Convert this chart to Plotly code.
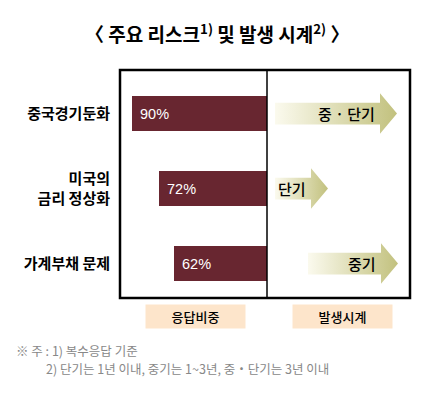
import plotly.graph_objects as go

# page has an 8px body margin; figure sized to fit inside the 433x395 window
OFF = 8
W, H = 433 - 2 * OFF, 395 - 2 * OFF

categories = ["중국경기둔화", "미국의<br>금리 정상화", "가계부채 문제"]
share_pct = [90, 72, 62]
timing_labels = ["중 · 단기", "단기", "중기"]
# arrow extents on the "timing" axis (right panel)
arrow_start = [8, 8, 41]
arrow_end = [130, 61, 131]

title_text = "〈 주요 리스크<sup>1)</sup> 및 발생 시계<sup>2)</sup> 〉"
panel_labels = ["응답비중", "발생시계"]
notes = ["※ 주 : 1) 복수응답 기준", "2) 단기는 1년 이내, 중기는 1~3년, 중・단기는 3년 이내"]

def px(x):
    return (x - OFF) / W

def py(y):
    return 1 - (y - OFF) / H

KFONT = "Noto Sans CJK KR"
ypos = list(range(len(categories)))

fig = go.Figure()

fig.add_trace(go.Bar(
    y=ypos, x=share_pct, orientation="h",
    marker=dict(color="#682630", line=dict(width=0)),
    width=0.47,
    xaxis="x", yaxis="y", showlegend=False, hoverinfo="skip",
))
for i, v in enumerate(share_pct):
    fig.add_annotation(x=v, y=i, xref="x", yref="y", text=f"{v}%",
                       showarrow=False, xanchor="left", yanchor="middle", xshift=6,
                       font=dict(color="white", size=14.5, family="Liberation Sans"))

BODY = 0.145
HEAD = 0.27
HEADLEN = 17
for i, (s, e) in enumerate(zip(arrow_start, arrow_end)):
    hb = e - HEADLEN
    xs = [s, hb, hb, e, hb, hb, s, s]
    ys = [i - BODY, i - BODY, i - HEAD, i, i + HEAD, i + BODY, i + BODY, i - BODY]
    fig.add_trace(go.Scatter(
        x=xs, y=ys, mode="lines", fill="toself",
        line=dict(width=0, color="rgba(0,0,0,0)"),
        fillgradient=dict(type="horizontal",
                          colorscale=[[0, "#fbfaee"], [1, "#c2c17e"]]),
        xaxis="x2", yaxis="y", showlegend=False, hoverinfo="skip",
    ))
    fig.add_annotation(
        x=hb, y=i, xref="x2", yref="y", text=timing_labels[i],
        showarrow=False, xanchor="right", yanchor="middle", xshift=-3,
        font=dict(family=KFONT, size=15, color="#000", weight=500),
    )

fig.update_layout(
    width=W, height=H,
    margin=dict(l=0, r=0, t=0, b=0, autoexpand=False),
    paper_bgcolor="white", plot_bgcolor="rgba(0,0,0,0)",
    bargap=0,
    xaxis=dict(domain=[px(120), px(267)], range=[98, 0], visible=False,
               fixedrange=True, automargin=False),
    xaxis2=dict(domain=[px(267), px(410)], range=[0, 143], visible=False,
                fixedrange=True, automargin=False),
    yaxis=dict(domain=[py(298), py(70)], range=[2.46, -0.58], automargin=False,
               tickvals=ypos, ticktext=categories, showgrid=False, zeroline=False,
               showline=False, ticks="", ticklabelstandoff=9,
               tickfont=dict(family=KFONT, size=15, color="#000", weight="bold")),
    shapes=[
        dict(type="rect", xref="paper", yref="paper", x0=px(120), x1=px(410),
             y0=py(298), y1=py(70), line=dict(color="black", width=2.5)),
        dict(type="line", xref="paper", yref="paper", x0=px(267), x1=px(267),
             y0=py(298), y1=py(70), line=dict(color="black", width=1.5)),
    ],
)

fig.add_annotation(x=px(217), y=py(33), xref="paper", yref="paper", text=title_text,
                   showarrow=False, xanchor="center", yanchor="middle",
                   font=dict(family=KFONT, size=19, color="#000", weight="bold"))

for lbl, cx in zip(panel_labels, [195.5, 342.5]):
    fig.add_annotation(x=px(cx), y=py(316.5), xref="paper", yref="paper", text=lbl,
                       showarrow=False, xanchor="center", yanchor="middle",
                       width=95, height=19, bgcolor="#fde5cb", borderpad=2,
                       font=dict(family=KFONT, size=13, color="#000", weight=500))

fig.add_annotation(x=px(14), y=py(350), xref="paper", yref="paper", text=notes[0],
                   showarrow=False, xanchor="left", yanchor="middle",
                   font=dict(family=KFONT, size=12.5, color="#888"))
fig.add_annotation(x=px(44), y=py(368), xref="paper", yref="paper", text=notes[1],
                   showarrow=False, xanchor="left", yanchor="middle",
                   font=dict(family=KFONT, size=12.5, color="#888"))

fig.write_html("out.html")
